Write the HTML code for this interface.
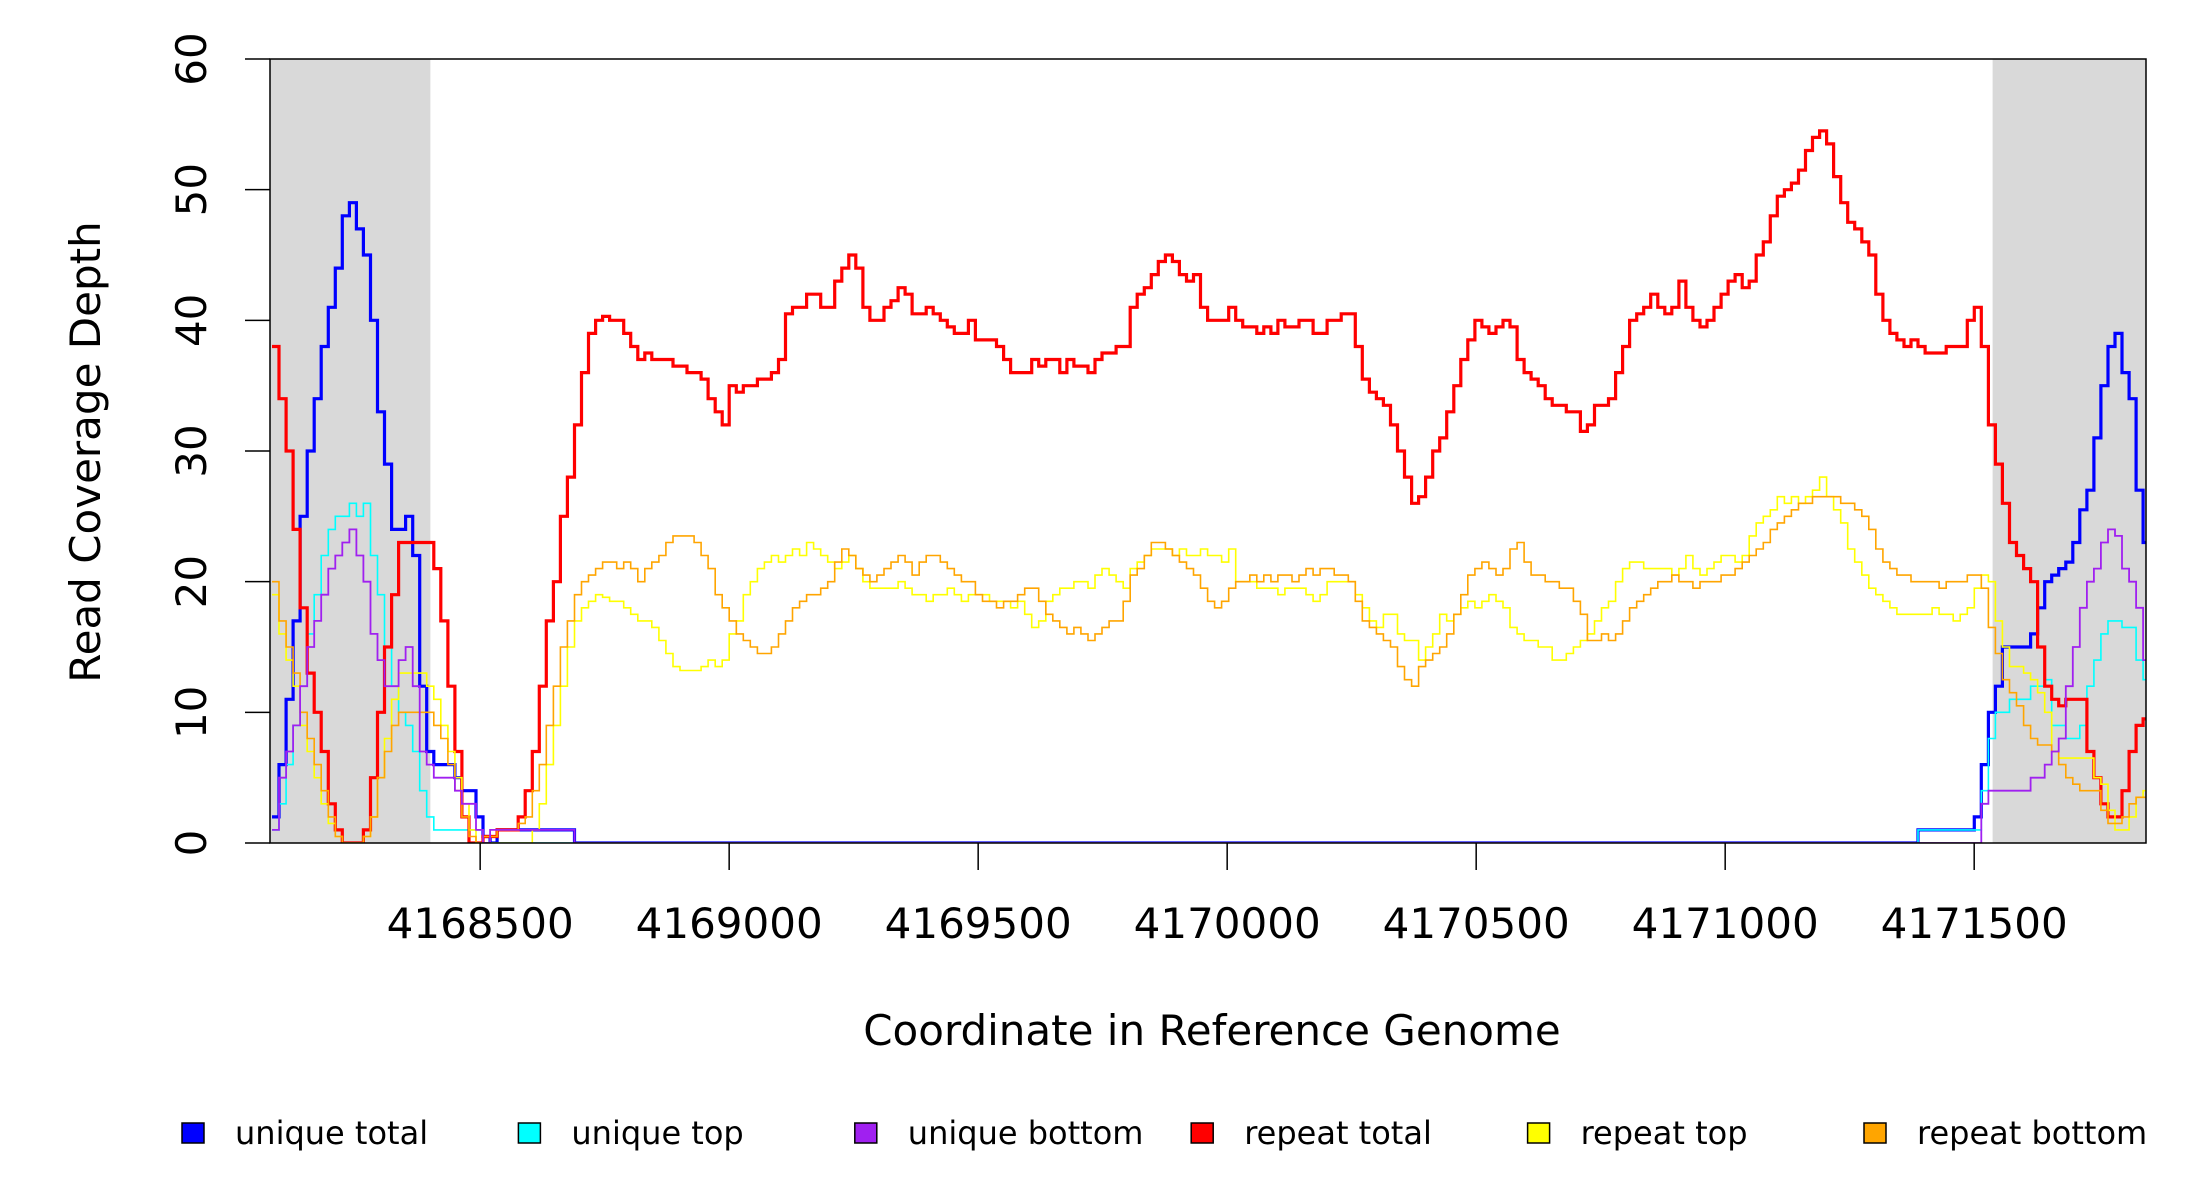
<!DOCTYPE html>
<html><head><meta charset="utf-8"><style>
html,body{margin:0;padding:0;background:#fff;}
svg{display:block;}
text{font-family:"DejaVu Sans","Liberation Sans",sans-serif;fill:#000;}
</style></head><body>
<svg id="chart" width="2200" height="1200" viewBox="0 0 2200 1200" xmlns="http://www.w3.org/2000/svg">
<defs><clipPath id="plotclip"><rect x="270" y="59" width="1876" height="784"/></clipPath></defs>
<g id="bg"></g>
<g id="series" clip-path="url(#plotclip)"></g>
<g id="axes"></g>
<text x="0" y="0" font-size="42" text-anchor="middle" transform="translate(100,452) rotate(-90)">Read Coverage Depth</text>
<text x="1212" y="1045" font-size="42" text-anchor="middle">Coordinate in Reference Genome</text>
<g id="legend"></g>
</svg>
<script>
const BIN_START = 4168082, BIN_SIZE = 14.125;
const xTicks = [4168500, 4169000, 4169500, 4170000, 4170500, 4171000, 4171500];
const yTicks = [0, 10, 20, 30, 40, 50, 60];
const shadedRegions = [[4168078, 4168400], [4171537, 4171845]];
const legendLabels = ["unique total","unique top","unique bottom","repeat total","repeat top","repeat bottom"];

const repeatTotal = [38,34,30,24,18,13,10,7,3,1,0,0,0,1,5,10,15,19,23,23,23,23,23,21,17,12,7,2,0,0,0.5,0.5,1,1,1,2,4,7,12,17,20,25,28,32,36,39,40,40.3,40,40,39,38,37,37.5,37,37,37,36.5,36.5,36,36,35.5,34,33,32,35,34.5,35,35,35.5,35.5,36,37,40.5,41,41,42,42,41,41,43,44,45,44,41,40,40,41,41.5,42.5,42,40.5,40.5,41,40.5,40,39.5,39,39,40,38.5,38.5,38.5,38,37,36,36,36,37,36.5,37,37,36,37,36.5,36.5,36,37,37.5,37.5,38,38,41,42,42.5,43.5,44.5,45,44.5,43.5,43,43.5,41,40,40,40,41,40,39.5,39.5,39,39.5,39,40,39.5,39.5,40,40,39,39,40,40,40.5,40.5,38,35.5,34.5,34,33.5,32,30,28,26,26.5,28,30,31,33,35,37,38.5,40,39.5,39,39.5,40,39.5,37,36,35.5,35,34,33.5,33.5,33,33,31.5,32,33.5,33.5,34,36,38,40,40.5,41,42,41,40.5,41,43,41,40,39.5,40,41,42,43,43.5,42.5,43,45,46,48,49.5,50,50.5,51.5,53,54,54.5,53.5,51,49,47.5,47,46,45,42,40,39,38.5,38,38.5,38,37.5,37.5,37.5,38,38,38,40,41,38,32,29,26,23,22,21,20,15,12,11,10.5,11,11,11,7,5,3,2,2,4,7,9,9.5];

const repeatTop = [19,16,14,12,9,7,5,3,1.5,0.5,0,0,0,0.5,2,5,8,11,13,13,13,13,12,11,9,7,5,3,1,0,0,0,0,0,0,0,0,1,3,6,9,12,15,17,18,18.5,19,18.8,18.5,18.5,18,17.5,17,17,16.5,15.5,14.5,13.5,13.2,13.2,13.2,13.5,14,13.5,14,16,17,19,20,21,21.5,22,21.5,22,22.5,22,23,22.5,22,21.5,21,21.5,22,21,20,19.5,19.5,19.5,19.5,20,19.5,19,19,18.5,19,19,19.5,19,18.5,19,19,19,18.5,18.5,18.5,18,18.5,17.5,16.5,17,18.5,19,19.5,19.5,20,20,19.5,20.5,21,20.5,20,19.5,21,21.5,22,22.5,22.5,22.5,22,22.5,22,22,22.5,22,22,21.5,22.5,20,20,20,19.5,19.5,19.5,19,19.5,19.5,19.5,19,18.5,19,20,20,20,20,19,18,17,16.5,17.5,17.5,16,15.5,15.5,14,15,16,17.5,17,17.5,18,18.5,18,18.5,19,18.5,18,16.5,16,15.5,15.5,15,15,14,14,14.5,15,15.5,16,17,18,18.5,20,21,21.5,21.5,21,21,21,21,20.5,21,22,21,20.5,21,21.5,22,22,21.5,22,23.5,24.5,25,25.5,26.5,26,26.5,26,26.5,27,28,26.5,25.5,24.5,22.5,21.5,20.5,19.5,19,18.5,18,17.5,17.5,17.5,17.5,17.5,18,17.5,17.5,17,17.5,18,19.5,20.5,20,17,15,13.5,13.5,13,12.5,11.5,10,7,6.5,6.5,6.5,6.5,6.5,5,4.5,2.5,1,1,2,3.5,4,4];

const repeatBottom = [20,17,15,13,10,8,6,4,2,0.5,0,0,0,0.5,2,5,7,9,10,10,10,10,10,9,8,6,4,2,0.5,0,0.5,0.5,1,1,1,1.5,2,4,6,9,12,15,17,19,20,20.5,21,21.5,21.5,21,21.5,21,20,21,21.5,22,23,23.5,23.5,23.5,23,22,21,19,18,17,16,15.5,15,14.5,14.5,15,16,17,18,18.5,19,19,19.5,20,21.5,22.5,22,21,20.5,20,20.5,21,21.5,22,21.5,20.5,21.5,22,22,21.5,21,20.5,20,20,19,18.5,18.5,18,18.5,18.5,19,19.5,19.5,18.5,17.5,17,16.5,16,16.5,16,15.5,16,16.5,17,17,18.5,20.5,21,22,23,23,22.5,22,21.5,21,20.5,19.5,18.5,18,18.5,19.5,20,20,20.5,20,20.5,20,20.5,20.5,20,20.5,21,20.5,21,21,20.5,20.5,20,18.5,17,16.5,16,15.5,15,13.5,12.5,12,13.5,14,14.5,15,16,17.5,19,20.5,21,21.5,21,20.5,21,22.5,23,21.5,20.5,20.5,20,20,19.5,19.5,18.5,17.5,15.5,15.5,16,15.5,16,17,18,18.5,19,19.5,20,20,20.5,20,20,19.5,20,20,20,20.5,20.5,21,21.5,22,22.5,23,24,24.5,25,25.5,26,26,26.5,26.5,26.5,26.5,26,26,25.5,25,24,22.5,21.5,21,20.5,20.5,20,20,20,20,19.5,20,20,20,20.5,20.5,19.5,16.5,14.5,12.5,11.5,10.5,9,8,7.5,7.5,7,6,5,4.5,4,4,4,2.5,1.5,1.5,2,3,3.5,3.5];

const uniqueTotalLeft = [2,6,11,17,25,30,34,38,41,44,48,49,47,45,40,33,29,24,24,25,22,12,7,6,6,6,5,4,4,2,0.5,0,1,1,1,1,1,1,1,1,1,1,1];
const uniqueTotalRight = [1,1,1,1,1,1,1,1,2,6,10,12,15,15,15,15,16,18,20,20.5,21,21.5,23,25.5,27,31,35,38,39,36,34,27,23];
const uniqueTopLeft = [1,3,6,9,12,16,19,22,24,25,25,26,25,26,22,19,15,12,10,9,7,4,2,1,1,1,1,1,1,1,0,0,0,0,0,0,0,0,0,0,0,0,0];
const uniqueTopRight = [1,1,1,1,1,1,1,1,1,4,8,10,10,11,11,11,12,12,12.5,9,9,8,8,9,12,14,16,17,17,16.5,16.5,14,12.5];
const uniqueBottomLeft = [1,5,7,9,12,15,17,19,21,22,23,24,22,20,16,14,12,12,14,15,12,7,6,5,5,5,4,3,3,1,0,1,1,1,1,1,1,1,1,1,1,1,1];
const uniqueBottomRight = [0,0,0,0,0,0,0,0,0,3,4,4,4,4,4,4,5,5,6,7,8,12,15,18,20,21,23,24,23.5,21,20,18,14,11];
const MIDDLE_ZERO_BINS = 191;

function withZeros(l, r){ return l.concat(new Array(MIDDLE_ZERO_BINS).fill(0), r); }
const uniqueTotal = withZeros(uniqueTotalLeft, uniqueTotalRight);
const uniqueTop = withZeros(uniqueTopLeft, uniqueTopRight);
const uniqueBottom = withZeros(uniqueBottomLeft, uniqueBottomRight.slice(0,33));

const PL = 270, PR = 2146, PT = 59, PB = 843;
const X0 = 4168078, X1 = 4171845;
function x(bp){ return PL + (bp - X0) * (PR - PL) / (X1 - X0); }
function y(v){ return PB - v * (PB - PT) / 60; }

const NS = "http://www.w3.org/2000/svg";
function mk(tag, attrs, parent){ const e = document.createElementNS(NS, tag); for (const k in attrs) e.setAttribute(k, attrs[k]); parent.appendChild(e); return e; }

const bg = document.getElementById('bg');
shadedRegions.forEach(function(r){
  const el = mk('rect', {x: x(r[0]), y: PT, width: Math.min(x(r[1]), PR) - x(r[0]), height: PB - PT, fill: '#d9d9d9'}, bg);
  
  
});

function stepPath(vals){
  let d = '';
  for (let i = 0; i < vals.length; i++){
    const xa = x(BIN_START + i * BIN_SIZE), xb = Math.min(x(BIN_START + (i + 1) * BIN_SIZE), PR);
    if (xa >= PR) break;
    const yy = y(vals[i]);
    d += (i === 0 ? 'M' : 'L') + xa.toFixed(1) + ',' + yy.toFixed(1) + 'L' + xb.toFixed(1) + ',' + yy.toFixed(1);
  }
  return d;
}
const seriesG = document.getElementById('series');
const seriesDefs = [
  [uniqueTotal, '#0000ff', 3.2, 'unique-total-line'],
  [uniqueTop, '#00ffff', 1.6, 'unique-top-line'],
  [repeatTotal, '#ff0000', 3.2, 'repeat-total-line'],
  [repeatTop, '#ffff00', 1.6, 'repeat-top-line'],
  [repeatBottom, '#ffa500', 1.6, 'repeat-bottom-line'],
  [uniqueBottom, '#a020f0', 1.8, 'unique-bottom-line']
];
seriesDefs.forEach(function(s){
  const p = mk('path', {d: stepPath(s[0]), fill: 'none', stroke: s[1], 'stroke-width': s[2], 'stroke-linejoin': 'miter'}, seriesG);
  
  
});

const axes = document.getElementById('axes');
const box = mk('rect', {x: PL, y: PT, width: PR - PL, height: PB - PT, fill: 'none', stroke: '#000', 'stroke-width': 1.5}, axes);


yTicks.forEach(function(v){
  const t = mk('line', {x1: 245, x2: PL, y1: y(v), y2: y(v), stroke: '#000', 'stroke-width': 1.5}, axes);
  
  
  const l = mk('text', {x: 0, y: 0, 'font-size': 42, 'text-anchor': 'middle', transform: 'translate(206,' + y(v) + ') rotate(-90)'}, axes);
  l.textContent = String(v);
  
  
});
xTicks.forEach(function(v){
  const t = mk('line', {x1: x(v), x2: x(v), y1: PB, y2: 870, stroke: '#000', 'stroke-width': 1.5}, axes);
  
  
  const l = mk('text', {x: x(v), y: 938, 'font-size': 42, 'text-anchor': 'middle'}, axes);
  l.textContent = String(v);
  
  
});

const legendColors = ['#0000ff', '#00ffff', '#a020f0', '#ff0000', '#ffff00', '#ffa500'];
const lg = document.getElementById('legend');
legendLabels.forEach(function(lab, i){
  const gx = 182 + i * 336.4;
  const g = mk('g', {}, lg);
  
  
  mk('rect', {x: gx, y: 1123, width: 22, height: 20, fill: legendColors[i], stroke: '#000', 'stroke-width': 1.5}, g);
  const t = mk('text', {x: gx + 53, y: 1144, 'font-size': 32}, g);
  t.textContent = lab;
});
</script>
</body></html>
